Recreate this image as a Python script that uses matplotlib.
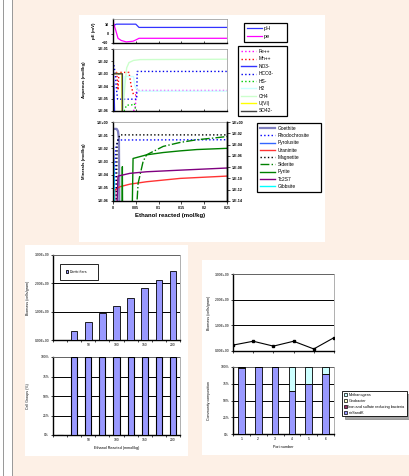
import numpy as np
import matplotlib.pyplot as plt
from matplotlib.patches import Rectangle, Patch
from matplotlib.ticker import FixedLocator, FuncFormatter, NullLocator

plt.rcParams['font.family'] = ['Liberation Sans', 'DejaVu Sans']

# ---------------- data ----------------
# pE panel
ph_x = [0, 0.007, 0.05, 0.057, 0.25]
ph_y = [8.8, 10.8, 10.8, 7.2, 7.2]
pe_x = [0, 0.006, 0.011, 0.018, 0.029, 0.044, 0.051, 0.057, 0.25]
pe_y = [14, 4, -4.8, -7.2, -8.8, -8, -6.4, -4.8, -4.8]

# aqueous (mol/kg)
fe_x = [0.045, 0.049, 0.051, 0.053, 0.25]
fe_y = [1e-6, 2e-6, 3e-5, 4.5e-5, 4.5e-5]
mn_x = [0.0, 0.008, 0.011, 0.013, 0.016, 0.035, 0.04, 0.045, 0.05]
mn_y = [1e-3, 1.3e-3, 5e-5, 1.3e-3, 1.3e-3, 1.3e-3, 1e-4, 2e-5, 2e-5]
no3_x = [0, 0.002, 0.004]
no3_y = [3e-3, 1e-4, 1e-7]
hco3_x = [0.002, 0.005, 0.007, 0.01, 0.03, 0.052, 0.053, 0.25]
hco3_y = [5e-3, 1e-3, 1e-4, 9e-6, 9e-6, 9e-6, 1.55e-3, 1.55e-3]
hs_x = [0.024, 0.03, 0.04, 0.047, 0.05]
hs_y = [1e-6, 3e-6, 3e-6, 4e-6, 1e-6]
h2_x = [0.02, 0.025, 0.045, 0.048, 0.055, 0.25]
h2_y = [1e-6, 6e-4, 6e-4, 1e-4, 4e-5, 4e-5]
ch4_x = [0.022, 0.026, 0.03, 0.035, 0.045, 0.06, 0.25]
ch4_y = [1e-6, 1e-4, 3e-3, 8e-3, 1.2e-2, 1.4e-2, 1.5e-2]
u6_x = [0, 0.0195, 0.02]
u6_y = [1.05e-3, 1.05e-3, 1e-7]
so4_x = [0, 0.0205, 0.0206]
so4_y = [1e-3, 1e-3, 1e-7]

# minerals (mol/kg)
goe_x = [0, 0.008, 0.011, 0.013, 0.014]
goe_y = [0.3, 0.3, 0.2, 0.05, 1e-7]
rho_x = [0.003, 0.006, 0.011, 0.25]
rho_y = [1e-7, 0.01, 0.043, 0.045]
pyl_x = [0, 0.002, 0.004]
pyl_y = [0.06, 1e-3, 1e-7]
ura_x = [0.003, 0.0037, 0.0147, 0.037, 0.0735, 0.147, 0.25]
ura_y = [1e-7, 6.6e-6, 1.2e-5, 1.9e-5, 2.9e-5, 5.2e-5, 7.8e-5]
mag_x = [0.007, 0.009, 0.015, 0.25]
mag_y = [1e-7, 0.03, 0.105, 0.105]
sid_x = [0.051, 0.055, 0.066, 0.0735, 0.11, 0.147, 0.184, 0.22, 0.25]
sid_y = [1e-7, 2.1e-5, 1e-3, 3.2e-3, 1.4e-2, 2.8e-2, 4.5e-2, 6e-2, 7.9e-2]
pyr_x = [0.020, 0.0205, 0.021, 0.042, 0.044, 0.0735, 0.11, 0.147, 0.184, 0.25]
pyr_y = [1e-7, 4e-4, 1e-7, 1e-7, 1.7e-3, 3.2e-3, 4.8e-3, 6.4e-3, 8.1e-3, 1.0e-2]
tc_x = [0.008, 0.011, 0.037, 0.0735, 0.147, 0.25]
tc_y = [1e-7, 7.8e-5, 1.26e-4, 1.66e-4, 2.2e-4, 3.2e-4]
gib_x = [0.001, 0.002, 0.003]
gib_y = [1e-3, 1e-4, 1e-7]

# bottom-left: denitrifier biomass and cell groups
eth_cats = [0, 25, 50, 75, 100, 125, 150, 175, 200]
denit_biomass = [0, 0.33, 0.65, 0.94, 1.21, 1.5, 1.82, 2.12, 2.42]
cell_pct = [0, 100, 100, 100, 100, 100, 100, 100, 100]

# bottom-right: ports
ports = [1, 2, 3, 4, 5, 6]
port_biomass = [0.23, 0.38, 0.19, 0.38, 0.08, 0.52]
nirs = [98, 100, 100, 64.5, 75, 89]
iron_sulf = [1, 0, 0, 0, 0, 0]
geobacter = [1, 0, 0, 0, 0, 0]
methanogens = [0, 0, 0, 35.5, 25, 11]

# ---------------- figure ----------------
W, H = 409, 476
fig = plt.figure(figsize=(W / 100, H / 100), dpi=100)
fig.patch.set_facecolor('#fdf0e6')


def px_axes(l, t, w, h):
    return fig.add_axes([l / W, 1 - (t + h) / H, w / W, h / H])


def px_rect(l, t, w, h, **kw):
    fig.add_artist(Rectangle((l / W, 1 - (t + h) / H), w / W, h / H,
                             transform=fig.transFigure, zorder=-5, **kw))


def sci_fmt(v, pos):
    e = int(round(np.log10(v)))
    return f"1.E{e:+03d}"


def frame(ax, black_right=False):
    for s in ['top', 'right']:
        ax.spines[s].set_color('#909090')
        ax.spines[s].set_linewidth(0.5)
    if black_right:
        ax.spines['right'].set_color('black')
        ax.spines['right'].set_linewidth(1.0)
    for s in ['left', 'bottom']:
        ax.spines[s].set_linewidth(1.0)
    ax.set_facecolor('white')


# left page strip and white panels
px_rect(0, 0, 13, H, facecolor='white', edgecolor='none')
px_rect(3, 0, 1, H, facecolor='#9a9a9a', edgecolor='none')
px_rect(12, 0, 1, H, facecolor='#9a9a9a', edgecolor='none')
px_rect(79, 15, 246, 227, facecolor='white', edgecolor='none')
px_rect(25, 245, 163, 211, facecolor='white', edgecolor='none')
px_rect(202, 260, 207, 195, facecolor='white', edgecolor='none')

tk = dict(labelsize=2.6, length=1.8, width=0.5, pad=1.5)
xt = np.arange(0, 0.2501, 0.05)

# ---- pE ----
ax1 = px_axes(113, 19, 114, 24)
frame(ax1)
ax1.plot(ph_x, ph_y, color='#3333ff', lw=0.9)
ax1.plot(pe_x, pe_y, color='#ff00ff', lw=0.9)
ax1.set_xlim(0, 0.25)
ax1.set_ylim(-10, 16.5)
ax1.set_yticks([-10, 0, 10])
ax1.set_xticks(xt)
ax1.tick_params(axis='x', labelbottom=False, direction='in', length=1.5, width=0.5)
ax1.tick_params(axis='y', **tk)
for lb in ax1.get_yticklabels():
    lb.set_fontweight('bold')
ax1.set_ylabel('pE (mV)', fontsize=3.2, fontweight='bold')
ax1.yaxis.set_label_coords(-0.15, 0.5)
lg = ax1.legend(['pH', 'pe'], loc='upper left', bbox_to_anchor=(244 / W, 1 - 23 / H, 43 / W, 0),
                bbox_transform=fig.transFigure, mode='expand', fontsize=4, frameon=True,
                fancybox=False, edgecolor='black', handlelength=2.6, labelspacing=0.45,
                borderpad=0.55, handletextpad=0.4, borderaxespad=0, framealpha=1)
lg.get_frame().set_linewidth(0.9)

# ---- aqueous ----
ax2 = px_axes(113, 49, 114, 62)
frame(ax2)
ax2.set_yscale('log')
aq = [
    (fe_x, fe_y, '#ff00ff', ':', 'Fe++'),
    (mn_x, mn_y, '#ff0000', ':', 'Mn++'),
    (no3_x, no3_y, '#3333ff', '-', 'NO3-'),
    (hco3_x, hco3_y, '#0000ee', ':', 'HCO3-'),
    (hs_x, hs_y, '#00cc00', ':', 'HS-'),
    (h2_x, h2_y, '#ccffff', '-', 'H2'),
    (ch4_x, ch4_y, '#ccffcc', '-', 'CH4'),
    (u6_x, u6_y, '#ffff00', '-', 'U(VI)'),
    (so4_x, so4_y, '#404040', '-', 'SO42-'),
]
for x, y, c, ls, lab in aq:
    ax2.plot(x, y, color=c, ls=ls, lw=1.0, label=lab)
ax2.set_xlim(0, 0.25)
ax2.set_ylim(1e-6, 1e-1)
ax2.yaxis.set_major_locator(FixedLocator([10.0 ** e for e in range(-6, 0)]))
ax2.yaxis.set_minor_locator(NullLocator())
ax2.yaxis.set_major_formatter(FuncFormatter(sci_fmt))
ax2.set_xticks(xt)
ax2.tick_params(axis='x', labelbottom=False, direction='in', length=1.5, width=0.5)
ax2.tick_params(axis='y', **tk)
for lb in ax2.get_yticklabels():
    lb.set_fontweight('bold')
ax2.set_ylabel('Aqueous (mol/kg)', fontsize=3.2, fontweight='bold')
ax2.yaxis.set_label_coords(-0.24, 0.5)
lg = ax2.legend(loc='upper left', bbox_to_anchor=(238 / W, 1 - 46 / H, 49 / W, 0),
                bbox_transform=fig.transFigure, mode='expand', fontsize=3.5,
                fancybox=False, edgecolor='black', handlelength=3.2, labelspacing=0.5,
                borderpad=0.6, handletextpad=0.5, borderaxespad=0, framealpha=1)
lg.get_frame().set_linewidth(0.9)

# ---- minerals ----
ax3 = px_axes(113, 122, 114, 79)
frame(ax3, black_right=True)
ax3.set_yscale('log')
mins = [
    (goe_x, goe_y, '#8080c0', '-', 'Goethite', 1.6),
    (rho_x, rho_y, '#0000ff', ':', 'Rhodochrosite', 1.0),
    (pyl_x, pyl_y, '#3366ff', '-', 'Pyrolusite', 1.0),
    (ura_x, ura_y, '#ff3333', '-', 'Uraninite', 1.0),
    (mag_x, mag_y, '#000000', ':', 'Magnetite', 1.0),
    (sid_x, sid_y, '#008000', '-.', 'Siderite', 1.0),
    (pyr_x, pyr_y, '#008000', '-', 'Pyrite', 1.0),
    (tc_x, tc_y, '#800080', '-', 'Tc2S7', 1.0),
    (gib_x, gib_y, '#00ffff', '-', 'Gibbsite', 1.0),
]
for x, y, c, ls, lab, lw in mins:
    ax3.plot(x, y, color=c, ls=ls, lw=lw, label=lab)
ax3.set_xlim(0, 0.25)
ax3.set_ylim(1e-6, 1)
ax3.yaxis.set_major_locator(FixedLocator([10.0 ** e for e in range(-6, 1)]))
ax3.yaxis.set_minor_locator(NullLocator())
ax3.yaxis.set_major_formatter(FuncFormatter(sci_fmt))
ax3.set_xticks(xt)
ax3.set_xticklabels(['0', '0.05', '0.1', '0.15', '0.2', '0.25'])
ax3.tick_params(axis='x', direction='out', **tk)
ax3.tick_params(axis='y', **tk)
for lb in ax3.get_yticklabels() + ax3.get_xticklabels():
    lb.set_fontweight('bold')
ax3.set_ylabel('Minerals (mol/kg)', fontsize=3.2, fontweight='bold')
ax3.yaxis.set_label_coords(-0.24, 0.5)
ax3.set_xlabel('Ethanol reacted (mol/kg)', fontsize=4.3, fontweight='bold', labelpad=2.5)
ax3r = ax3.twinx()
ax3r.set_yscale('log')
ax3r.set_ylim(1e-14, 1)
ax3r.yaxis.set_major_locator(FixedLocator([10.0 ** e for e in range(-14, 1, 2)]))
ax3r.yaxis.set_minor_locator(NullLocator())
ax3r.yaxis.set_major_formatter(FuncFormatter(sci_fmt))
ax3r.tick_params(axis='y', **tk)
for lb in ax3r.get_yticklabels():
    lb.set_fontweight('bold')
for s in ['top', 'left', 'bottom']:
    ax3r.spines[s].set_visible(False)
ax3r.spines['right'].set_linewidth(1.0)
lg = ax3.legend(loc='upper left', bbox_to_anchor=(257 / W, 1 - 123 / H, 64 / W, 0),
                bbox_transform=fig.transFigure, mode='expand', fontsize=3.5,
                fancybox=False, edgecolor='black', handlelength=3.2, labelspacing=0.46,
                borderpad=0.6, handletextpad=0.5, borderaxespad=0, framealpha=1)
lg.get_frame().set_linewidth(0.9)
lg.set_zorder(10)

# ---- bottom-left: biomass bars ----
bar_c = '#9999ff'
sm = dict(labelsize=2.4, length=1.6, width=0.5, pad=1.2)
cat_pos = np.arange(len(eth_cats))
lab_pos = [2, 4, 6, 8]


def cat_axis(ax, n, labpos, labs):
    ax.set_xlim(-0.5, n - 0.5)
    ax.set_xticks(np.arange(-0.5, n, 1.0))
    ax.set_xticklabels([])
    ax.set_xticks(labpos, labs, minor=True)
    ax.tick_params(axis='x', which='major', length=1.6, width=0.5)
    ax.tick_params(axis='x', which='minor', length=0, labelsize=2.4, pad=2.5)


ax4 = px_axes(53, 255, 127, 85)
frame(ax4)
ax4.bar(cat_pos, denit_biomass, width=0.47, color=bar_c, edgecolor='black', lw=0.6,
        label='Denitrifiers', zorder=3)
ax4.set_ylim(0, 3)
ax4.set_yticks([0, 1, 2, 3])
ax4.set_yticklabels(['0.00E+00', '1.00E+09', '2.00E+09', '3.00E+09'])
ax4.grid(axis='y', color='black', lw=0.7)
ax4.set_axisbelow(True)
cat_axis(ax4, len(eth_cats), lab_pos, [str(eth_cats[i]) for i in lab_pos])
ax4.tick_params(axis='y', **sm)
ax4.set_ylabel('Biomass (cells/gram)', fontsize=2.6)
ax4.yaxis.set_label_coords(-0.18, 0.5)
lg = ax4.legend(loc='upper left', bbox_to_anchor=(60 / W, 1 - 264 / H, 38 / W, 0),
                bbox_transform=fig.transFigure, mode='expand', fontsize=2.6,
                fancybox=False, edgecolor='black', handlelength=0.7, handleheight=0.7,
                borderpad=1.6, handletextpad=0.4, borderaxespad=0, framealpha=1)
lg.get_frame().set_linewidth(0.6)

ax5 = px_axes(53, 357, 127, 78)
frame(ax5)
ax5.bar(cat_pos, cell_pct, width=0.43, color=bar_c, edgecolor='black', lw=0.8, zorder=3)
ax5.set_ylim(0, 100)
ax5.set_yticks([0, 25, 50, 75, 100])
ax5.set_yticklabels(['0%', '25%', '50%', '75%', '100%'])
ax5.grid(axis='y', color='black', lw=0.7)
ax5.set_axisbelow(True)
cat_axis(ax5, len(eth_cats), lab_pos, [str(eth_cats[i]) for i in lab_pos])
ax5.tick_params(axis='y', **sm)
ax5.set_ylabel('Cell Groups (%)', fontsize=2.6)
ax5.yaxis.set_label_coords(-0.18, 0.5)
ax5.set_xlabel('Ethanol Reacted (mmol/kg)', fontsize=2.7, labelpad=2.5)

# ---- bottom-right: port biomass line ----
ax6 = px_axes(233, 274, 101, 77)
frame(ax6)
ax6.plot(ports, port_biomass, color='black', lw=0.8, marker='s', ms=1.6, zorder=3)
ax6.set_xlim(1, 6)
ax6.set_ylim(0, 3)
ax6.set_yticks([0, 1, 2, 3])
ax6.set_yticklabels(['0.00E+00', '1.00E+09', '2.00E+09', '3.00E+09'])
ax6.set_xticks(ports)
ax6.set_xticklabels([])
ax6.grid(axis='y', color='black', lw=0.7)
ax6.tick_params(axis='both', **sm)
ax6.set_ylabel('Biomass (cells/gram)', fontsize=2.6)
ax6.yaxis.set_label_coords(-0.22, 0.5)

# ---- bottom-right: community composition ----
ax7 = px_axes(233, 367, 101, 67)
frame(ax7)
pp = np.arange(len(ports))
bw = 0.4
ax7.bar(pp, nirs, width=bw, color='#9999ff', edgecolor='black', lw=0.6, zorder=3)
bot = np.array(nirs, dtype=float)
ax7.bar(pp, iron_sulf, bottom=bot, width=bw, color='#993366', edgecolor='black', lw=0.6, zorder=3)
bot = bot + np.array(iron_sulf)
ax7.bar(pp, geobacter, bottom=bot, width=bw, color='#ffffcc', edgecolor='black', lw=0.6, zorder=3)
bot = bot + np.array(geobacter)
ax7.bar(pp, methanogens, bottom=bot, width=bw, color='#ccffff', edgecolor='black', lw=0.6, zorder=3)
ax7.set_ylim(0, 100)
ax7.set_yticks([0, 25, 50, 75, 100])
ax7.set_yticklabels(['0%', '25%', '50%', '75%', '100%'])
ax7.grid(axis='y', color='black', lw=0.7)
ax7.set_axisbelow(True)
cat_axis(ax7, len(ports), pp, [str(p) for p in ports])
ax7.tick_params(axis='y', **sm)
ax7.set_ylabel('Community composition', fontsize=2.6)
ax7.yaxis.set_label_coords(-0.22, 0.5)
ax7.set_xlabel('Port number', fontsize=2.7, labelpad=2.5)
hand = [Patch(facecolor='#ccffff', edgecolor='black', lw=0.5),
        Patch(facecolor='#ffffcc', edgecolor='black', lw=0.5),
        Patch(facecolor='#993366', edgecolor='black', lw=0.5),
        Patch(facecolor='#9999ff', edgecolor='black', lw=0.5)]
labs = ['Methanogens', 'Geobacter', 'Iron and sulfate reducing bacteria', 'nirSandK']
lg = ax7.legend(hand, labs, loc='upper left', bbox_to_anchor=(342 / W, 1 - 391 / H),
                bbox_transform=fig.transFigure, fontsize=2.7, fancybox=False,
                edgecolor='black', handlelength=0.8, handleheight=0.8, labelspacing=0.5,
                borderpad=0.5, handletextpad=0.4, borderaxespad=0, framealpha=1,
                shadow=True)
lg.get_frame().set_linewidth(0.6)

fig.savefig('out.png', dpi=100, facecolor=fig.get_facecolor())
